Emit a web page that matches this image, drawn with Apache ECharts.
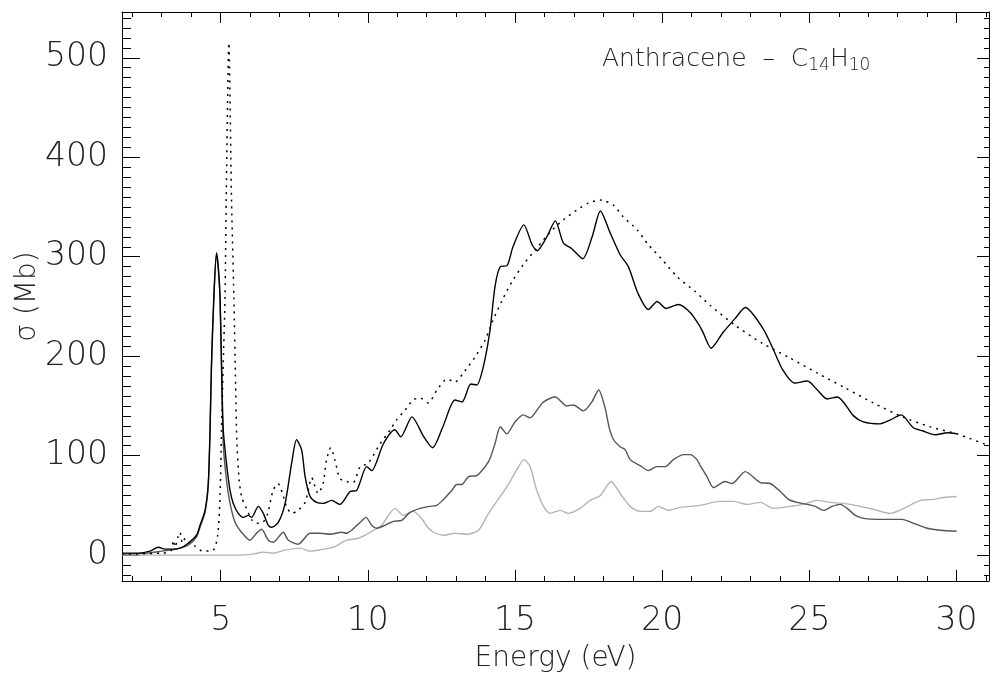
<!DOCTYPE html>
<html>
<head>
<meta charset="utf-8">
<script src="https://cdn.jsdelivr.net/npm/echarts@6/dist/echarts.min.js"></script>
<style>
  html, body { margin: 0; padding: 0; background: #fff; }
  #chart { width: 990px; height: 677px; }
</style>
</head>
<body>
<div id="chart"></div>
<script>
// total (solid black)
const totalX = [1.65, 2.2, 2.6, 2.88, 3.1, 3.33, 3.62, 3.9, 4.18, 4.3, 4.47, 4.58, 4.64, 4.69, 4.77, 4.86, 4.92, 4.98, 5.03, 5.09, 5.2, 5.32, 5.43, 5.6, 5.77, 5.94, 6.05, 6.28, 6.45, 6.62, 6.73, 6.96, 7.19, 7.41, 7.58, 7.75, 7.87, 8.04, 8.26, 8.49, 8.77, 9.05, 9.4, 9.62, 9.96, 10.13, 10.53, 10.92, 11.12, 11.5, 11.9, 12.2, 12.55, 12.96, 13.2, 13.5, 13.7, 13.92, 14.15, 14.32, 14.5, 14.73, 14.93, 15.3, 15.58, 15.75, 16.08, 16.37, 16.64, 16.93, 17.3, 17.62, 17.9, 18.23, 18.57, 18.85, 19.18, 19.53, 19.83, 20.13, 20.55, 20.95, 21.26, 21.4, 21.66, 22.07, 22.48, 22.82, 23.4, 23.74, 24.1, 24.5, 24.93, 25.27, 25.6, 25.95, 26.5, 26.83, 27.4, 27.75, 28.12, 28.53, 28.84, 29.28, 29.69, 30.0];
const totalY = [2, 2, 4, 8, 6, 6, 7, 12, 20, 30, 45, 72, 126, 193, 260, 304, 290, 260, 193, 126, 92, 65, 52, 42, 38, 40, 38, 49, 42, 30, 28, 33, 52, 92, 116, 106, 79, 59, 53, 52, 55, 51, 64, 65, 89, 85, 112, 126, 119, 139, 119, 108, 129, 156, 154, 172, 171, 189, 226, 270, 290, 291, 310, 332, 312, 306, 320, 336, 314, 308, 298, 320, 346, 324, 302, 290, 263, 247, 255, 248, 252, 244, 231, 223, 208, 224, 238, 249, 229, 209, 186, 173, 175, 166, 157, 159, 140, 134, 132, 136, 141, 128, 125, 121, 123, 122];

// dotted black
const dotX = [1.65, 3.0, 3.3, 3.4, 3.45, 3.55, 3.62, 3.7, 3.8, 3.96, 4.13, 4.4, 4.75, 4.9, 4.98, 5.03, 5.09, 5.15, 5.19, 5.28, 5.37, 5.45, 5.51, 5.55, 5.63, 5.72, 5.86, 6.07, 6.23, 6.44, 6.6, 6.78, 6.95, 7.1, 7.25, 7.42, 7.63, 7.87, 8.1, 8.14, 8.31, 8.48, 8.6, 8.74, 8.88, 9.05, 9.28, 9.5, 9.74, 10.0, 10.42, 10.76, 10.98, 11.27, 11.54, 11.78, 12.05, 12.35, 12.69, 12.96, 13.24, 13.64, 13.98, 14.25, 14.56, 14.9, 15.28, 15.75, 16.2, 16.64, 17.1, 17.5, 17.9, 18.06, 18.34, 18.68, 19.15, 19.53, 20.0, 20.5, 21.12, 21.63, 22.48, 23.4, 24.35, 25.27, 26.22, 27.17, 28.16, 29.1, 30.0, 31.1];
const dotY = [1, 2, 4, 15, 8, 18, 23, 12, 17, 12, 9, 4, 5, 20, 59, 126, 193, 260, 357, 515, 357, 260, 170, 116, 75, 58, 48, 35, 32, 33, 42, 65, 72, 62, 48, 42, 45, 53, 78, 75, 62, 72, 96, 108, 96, 77, 74, 73, 89, 92, 112, 126, 136, 146, 156, 158, 153, 166, 177, 174, 183, 199, 216, 236, 256, 275, 292, 309, 325, 337, 347, 354, 357, 356, 352, 340, 327, 312, 297, 280, 265, 251, 231, 213, 198, 183, 168, 153, 139, 129, 122, 110];

// dark grey
const darkX = [1.65, 2.5, 3.0, 3.5, 3.9, 4.18, 4.3, 4.47, 4.58, 4.64, 4.69, 4.77, 4.86, 4.92, 4.98, 5.03, 5.09, 5.2, 5.32, 5.49, 5.71, 6.0, 6.22, 6.39, 6.62, 6.79, 7.13, 7.3, 7.64, 8.04, 8.38, 8.72, 9.11, 9.28, 9.45, 9.74, 9.94, 10.13, 10.3, 10.58, 10.87, 11.15, 11.43, 11.78, 12.1, 12.34, 12.57, 12.85, 13.02, 13.19, 13.42, 13.7, 14.1, 14.32, 14.5, 14.72, 15.0, 15.28, 15.51, 15.8, 15.97, 16.37, 16.76, 16.98, 17.33, 17.61, 17.84, 18.06, 18.2, 18.35, 18.57, 18.74, 18.91, 19.25, 19.53, 19.82, 20.1, 20.38, 20.72, 20.95, 21.18, 21.29, 21.52, 21.74, 22.14, 22.37, 22.82, 23.33, 23.67, 24.01, 24.29, 24.58, 24.92, 25.2, 25.48, 25.77, 26.05, 26.28, 26.56, 26.84, 27.3, 27.75, 28.15, 28.54, 29.0, 29.45, 30.0];
const darkY = [1, 2, 4, 6, 10, 18, 28, 43, 70, 124, 190, 258, 302, 288, 258, 190, 112, 75, 52, 33, 23, 15, 22, 26, 15, 13, 23, 15, 11, 22, 22, 21, 23, 22, 25, 33, 38, 30, 27, 30, 34, 35, 43, 47, 49, 50, 56, 65, 71, 71, 79, 80, 94, 112, 129, 122, 134, 141, 138, 148, 154, 159, 150, 151, 145, 154, 166, 148, 128, 116, 109, 106, 96, 90, 85, 89, 89, 96, 101, 101, 96, 90, 79, 68, 74, 72, 84, 73, 72, 64, 56, 53, 51, 49, 45, 49, 51, 47, 40, 37, 36, 36, 36, 32, 27, 25, 24];

// light grey
const lightX = [1.65, 5.6, 6.1, 6.44, 6.79, 7.18, 7.7, 8.04, 8.48, 8.83, 9.28, 9.68, 10.08, 10.47, 10.7, 10.93, 11.2, 11.55, 11.85, 12.0, 12.23, 12.57, 12.96, 13.36, 13.76, 14.1, 14.5, 14.83, 15.06, 15.31, 15.51, 15.74, 15.97, 16.19, 16.53, 16.81, 17.21, 17.55, 17.9, 18.26, 18.57, 18.91, 19.25, 19.59, 19.87, 20.21, 20.6, 20.95, 21.29, 21.97, 22.42, 22.88, 23.33, 23.78, 24.35, 24.8, 25.26, 25.71, 26.16, 26.73, 27.18, 27.75, 28.2, 28.77, 29.22, 29.56, 30.0];
const lightY = [0, 0, 1, 3, 2, 5, 7, 4, 6, 8, 15, 17, 23, 30, 40, 47, 40, 44, 36, 29, 23, 20, 22, 21, 25, 42, 59, 74, 86, 96, 89, 65, 49, 42, 45, 42, 47, 55, 60, 74, 62, 49, 44, 44, 49, 45, 48, 49, 50, 54, 54, 51, 53, 47, 49, 51, 55, 53, 52, 49, 46, 42, 47, 55, 56, 58, 59];

const xMajor = [5, 10, 15, 20, 25, 30];
const yMajor = [0, 100, 200, 300, 400, 500];

const xMin = 1.65, xMax = 31.1;
const yMin = -26, yMax = 546;

const xMinor = [];
for (let v = 2; v <= 31; v++) if (xMajor.indexOf(v) < 0) xMinor.push(v);
const yMinor = [];
for (let v = -20; v <= 540; v += 10) if (yMajor.indexOf(v) < 0) yMinor.push(v);

const FONT = '"DejaVu Sans", Lato, sans-serif';
const TEXT = '#222';

function zip(xs, ys) {
  return xs.map((x, i) => [x, ys[i]]);
}

// one axis per tick set, so major and minor ticks can have different lengths
function xAx(position, ticks, len, withLabels, withLine) {
  return {
    type: 'value', position: position, min: xMin, max: xMax,
    axisLine: { show: withLine, onZero: false, lineStyle: { color: '#000', width: 1 } },
    axisTick: { show: true, inside: true, length: len, customValues: ticks, lineStyle: { color: '#000', width: 1 } },
    axisLabel: withLabels ? {
      show: true, customValues: ticks, margin: 24,
      fontFamily: FONT, fontWeight: 200, fontSize: 33, color: TEXT
    } : { show: false },
    splitLine: { show: false }
  };
}
function yAx(position, ticks, len, withLabels, withLine) {
  return {
    type: 'value', position: position, min: yMin, max: yMax,
    axisLine: { show: withLine, onZero: false, lineStyle: { color: '#000', width: 1 } },
    axisTick: { show: true, inside: true, length: len, customValues: ticks, lineStyle: { color: '#000', width: 1 } },
    axisLabel: withLabels ? {
      show: true, customValues: ticks, margin: 14,
      fontFamily: FONT, fontWeight: 200, fontSize: 33, color: TEXT
    } : { show: false },
    splitLine: { show: false }
  };
}

const xAxes = [
  xAx('bottom', xMajor, 11, true, true),
  xAx('bottom', xMinor, 5, false, false),
  xAx('top', xMajor, 11, false, true),
  xAx('top', xMinor, 5, false, false)
];
xAxes[0].name = 'Energy (eV)';
xAxes[0].nameLocation = 'middle';
xAxes[0].nameGap = 64;
xAxes[0].nameMoveOverlap = false;
xAxes[0].nameTextStyle = { fontFamily: FONT, fontWeight: 200, fontSize: 28, color: TEXT };

const yAxes = [
  yAx('left', yMajor, 18, true, true),
  yAx('left', yMinor, 9, false, false),
  yAx('right', yMajor, 12, false, true),
  yAx('right', yMinor, 5, false, false)
];
yAxes[0].name = 'σ (Mb)';
yAxes[0].nameLocation = 'middle';
yAxes[0].nameGap = 80;
yAxes[0].nameMoveOverlap = false;
yAxes[0].nameTextStyle = { fontFamily: FONT, fontWeight: 200, fontSize: 28, color: TEXT };

const chart = echarts.init(document.getElementById('chart'), null, { renderer: 'canvas' });
chart.setOption({
  animation: false,
  backgroundColor: '#fff',
  grid: { left: 122, right: 1, top: 12, bottom: 96, outerBoundsMode: 'none', containLabel: false },
  title: {
    text: 'Anthracene  –  C{s|14}H{s|10}',
    left: 597, top: 40,
    textStyle: {
      fontFamily: FONT, fontWeight: 200, fontSize: 25, color: TEXT,
      rich: {
        s: { fontFamily: FONT, fontWeight: 200, fontSize: 17, color: TEXT, padding: [12, 0, 0, 0] }
      }
    }
  },
  xAxis: xAxes,
  yAxis: yAxes,
  series: [
    {
      name: 'light', type: 'line', data: zip(lightX, lightY), showSymbol: false, smooth: 0.25,
      lineStyle: { color: '#b4b4b4', width: 1.4 }, z: 2
    },
    {
      name: 'dark', type: 'line', data: zip(darkX, darkY), showSymbol: false, smooth: 0.25,
      lineStyle: { color: '#555', width: 1.4 }, z: 3
    },
    {
      name: 'dotted', type: 'line', data: zip(dotX, dotY), showSymbol: false, smooth: 0.25,
      lineStyle: { color: '#000', width: 1.5, type: [2, 5] }, z: 4
    },
    {
      name: 'total', type: 'line', data: zip(totalX, totalY), showSymbol: false, smooth: 0.25,
      lineStyle: { color: '#000', width: 1.4 }, z: 5
    }
  ]
});
</script>
</body>
</html>
